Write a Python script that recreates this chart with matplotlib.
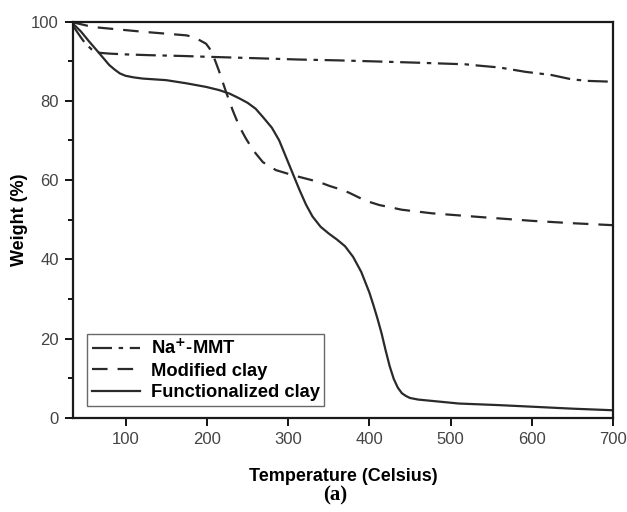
import matplotlib
matplotlib.use("Agg")
import matplotlib.pyplot as plt
from matplotlib.ticker import MultipleLocator

plt.rcParams['font.family'] = ['Liberation Sans', 'DejaVu Sans']

# TGA curves
temp_mmt = [35, 40, 45, 50, 58, 68, 80, 100, 130, 170, 200, 250, 314, 360, 412,
            460, 518, 538, 560, 592, 624, 649, 670, 700]
w_mmt = [99.0, 97.5, 96.0, 94.6, 93.0, 92.1, 91.9, 91.7, 91.5, 91.3, 91.1, 90.8,
         90.4, 90.2, 89.9, 89.6, 89.2, 88.8, 88.4, 87.3, 86.5, 85.4, 85.0, 84.8]

temp_mod = [35, 60, 122, 175, 185, 191, 199, 203, 207, 215, 224, 232, 240, 248,
            257, 269, 285, 306, 338, 351, 365, 375, 385, 395, 412, 440, 477, 540,
            600, 650, 700]
w_mod = [99.8, 98.6, 97.4, 96.5, 96.0, 95.3, 94.4, 93.3, 91.9, 87.5, 82.0, 77.5,
         73.5, 70.5, 67.5, 64.5, 62.5, 61.2, 59.5, 58.5, 57.6, 56.8, 55.8, 54.8,
         53.7, 52.5, 51.6, 50.6, 49.7, 49.1, 48.6]

temp_func = [35, 45, 55, 68, 80, 87, 93, 100, 110, 121, 150, 175, 199, 215, 228,
             240, 250, 260, 269, 280, 289, 297, 306, 314, 322, 330, 340, 350, 360,
             370, 380, 390, 400, 405, 410, 415, 420, 425, 430, 435, 440, 445, 450,
             460, 480, 510, 559, 600, 650, 700]
w_func = [99.5, 97.5, 95.0, 91.9, 89.0, 87.8, 86.9, 86.3, 85.9, 85.6, 85.2, 84.4,
          83.5, 82.7, 81.8, 80.6, 79.5, 78.0, 75.9, 73.2, 70.0, 66.0, 61.5, 57.5,
          53.8, 50.8, 48.2, 46.5, 45.0, 43.3, 40.6, 36.8, 31.6, 28.4, 25.0, 21.3,
          17.0, 13.0, 9.8, 7.6, 6.2, 5.5, 5.0, 4.6, 4.2, 3.6, 3.2, 2.8, 2.3, 1.9]

labels = ['Na$^{\\mathbf{+}}$-MMT', 'Modified clay', 'Functionalized clay']
xticks = [100, 200, 300, 400, 500, 600, 700]
yticks = [0, 20, 40, 60, 80, 100]

fig = plt.figure(figsize=(6.27, 5.12), dpi=100)
ax = fig.add_axes([0.116, 0.184, 0.862, 0.774])

c = '#2a2a2a'
ax.plot(temp_mmt, w_mmt, color=c, lw=1.6, dashes=(9, 3, 2, 3), label=labels[0])
ax.plot(temp_mod, w_mod, color=c, lw=1.6, dashes=(7, 4.5), label=labels[1])
ax.plot(temp_func, w_func, color=c, lw=1.6, label=labels[2])

ax.set_xlim(35, 700)
ax.set_ylim(0, 100)
ax.set_xticks(xticks)
ax.set_yticks(yticks)
ax.yaxis.set_minor_locator(MultipleLocator(10))
ax.tick_params(axis='both', which='major', direction='out', length=6, width=1.3,
               labelsize=12, labelcolor='#444444', pad=4)
ax.tick_params(axis='y', which='minor', direction='out', length=3.5, width=1.3)
ax.tick_params(top=False, right=False)
for s in ax.spines.values():
    s.set_linewidth(1.6)
    s.set_color('#1a1a1a')

ax.set_xlabel('Temperature (Celsius)', fontsize=13, fontweight='bold', labelpad=15)
ax.set_ylabel('Weight (%)', fontsize=13, fontweight='bold', labelpad=2)

leg = ax.legend(loc='lower left', bbox_to_anchor=(0.027, 0.03),
                prop={'weight': 'bold', 'size': 13.2}, frameon=True, fancybox=False,
                handlelength=2.6, handletextpad=0.6, labelspacing=0.25,
                borderpad=0.25, borderaxespad=0)
leg.get_frame().set_edgecolor('#444444')
leg.get_frame().set_linewidth(1.0)

fig.text(0.535, 0.022, '(a)', fontsize=15, fontweight='bold',
         family='Liberation Serif', ha='center')

fig.savefig('out.png', dpi=100)
